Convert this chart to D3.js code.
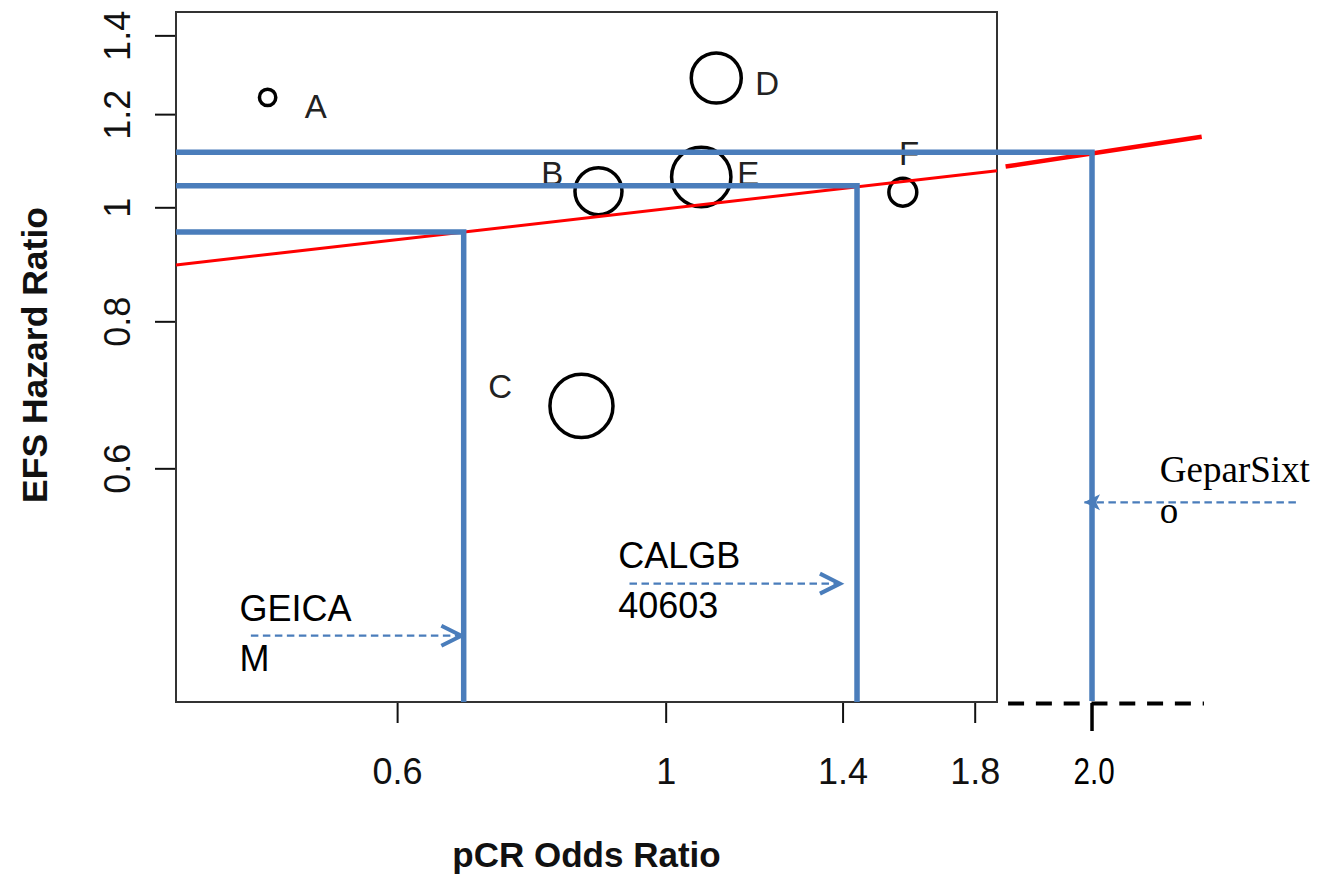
<!DOCTYPE html>
<html>
<head>
<meta charset="utf-8">
<script src="https://cdn.jsdelivr.net/npm/d3@7"></script>
<style>
  body { margin: 0; background: #fff; }
  text { font-family: "Liberation Sans", Arial, sans-serif; }
</style>
</head>
<body>
<div id="chart"></div>
<script>
// studies in the meta-regression (bubble plot)
var studies   = ["A", "B", "C", "D", "E", "F"];
var pcrOR     = [0.469, 0.880, 0.852, 1.101, 1.070, 1.570];
var efsHR     = [1.240, 1.032, 0.678, 1.288, 1.061, 1.030];
var studySize = [65, 540, 970, 610, 860, 190];
// where each letter was put with text()
var labelOR   = [0.514, 0.806, 0.730, 1.213, 1.170, 1.589];
var labelHR   = [1.218, 1.068, 0.704, 1.276, 1.068, 1.111];

var xTicks = [0.6, 1, 1.4, 1.8];
var yTicks = [0.6, 0.8, 1, 1.2, 1.4];

// regression line: log(HR) = a + b * log(OR)
var regIntercept = -0.003;
var regSlope = 0.118;
// hand-drawn extension of the red line outside the box
var redExtOR = [1.909, 2.772];
var redExtHR = [1.083, 1.148];

// trials
var trials     = ["GEICAM", "CALGB 40603", "GeparSixto"];
var trialOR    = [0.681, 1.439, 2.25];
var trialHR    = [0.953, 1.043, 1.114];
var trialLines = [["GEICA", "M"], ["CALGB", "40603"], ["GeparSixt", "o"]];
var noteOR     = [0.4445, 0.9137, 2.560];
var noteHR     = [0.4453, 0.494, 0.5845];
var arrowFromOR = [0.4543, 0.9335, 3.316];
var arrowToOR   = [0.678, 1.393, 2.216];
var arrowHR     = [0.4324, 0.4788, 0.5614];
var extTickLabel = "2.0";
var extAxisOR = [1.918, 2.784];

var W = 1319, H = 877;
var pLeft = 176, pRight = 997, pTop = 12, pBottom = 702;
var blue = "#4a7dbb";

var svg = d3.select("#chart").append("svg")
  .attr("width", W)
  .attr("height", H);

var x = d3.scaleLog().domain([0.394, 1.878]).range([pLeft, pRight]);
var y = d3.scaleLog().domain([0.3798, 1.4655]).range([pBottom, pTop]);
var r = d3.scaleSqrt().domain([0, 1000]).range([0, 32]);

// axes
var xAxis = svg.append("g")
  .attr("transform", "translate(0," + pBottom + ")")
  .call(d3.axisBottom(x).tickValues(xTicks).tickSize(21).tickFormat(d3.format("")));
xAxis.select(".domain").remove();
xAxis.selectAll("line").attr("stroke", "#111").attr("stroke-width", 2);
xAxis.selectAll("text")
  .attr("y", 82).attr("dy", 0)
  .attr("fill", "#111")
  .style("font-size", "36px")
  .style("font-family", "'Liberation Sans', Arial, sans-serif");

var yAxis = svg.append("g")
  .attr("transform", "translate(" + pLeft + ",0)")
  .call(d3.axisLeft(y).tickValues(yTicks).tickSize(21).tickFormat(d3.format("")));
yAxis.select(".domain").remove();
yAxis.selectAll("line").attr("stroke", "#111").attr("stroke-width", 2);
yAxis.selectAll("text")
  .attr("transform", "rotate(-90)")
  .attr("x", 0).attr("y", -46).attr("dy", 0)
  .attr("text-anchor", "middle")
  .attr("fill", "#111")
  .style("font-size", "36px")
  .style("font-family", "'Liberation Sans', Arial, sans-serif");

// box
svg.append("rect")
  .attr("x", pLeft).attr("y", pTop)
  .attr("width", pRight - pLeft).attr("height", pBottom - pTop)
  .attr("fill", "none")
  .attr("stroke", "#333")
  .attr("stroke-width", 2);

// axis titles
svg.append("text")
  .attr("x", (pLeft + pRight) / 2).attr("y", 867)
  .attr("text-anchor", "middle")
  .style("font-size", "35px").style("font-weight", "bold")
  .attr("fill", "#111")
  .text("pCR Odds Ratio");

svg.append("text")
  .attr("transform", "translate(47," + ((pTop + pBottom) / 2 - 2) + ") rotate(-90)")
  .attr("text-anchor", "middle")
  .style("font-size", "35.5px").style("font-weight", "bold")
  .attr("fill", "#111")
  .text("EFS Hazard Ratio");

// bubbles
var pts = studies.map(function (s, i) {
  return { name: s, or: pcrOR[i], hr: efsHR[i], n: studySize[i], lor: labelOR[i], lhr: labelHR[i] };
});

svg.selectAll("circle.study").data(pts)
  .enter().append("circle")
  .attr("class", "study")
  .attr("cx", function (d) { return x(d.or); })
  .attr("cy", function (d) { return y(d.hr); })
  .attr("r", function (d) { return r(d.n); })
  .attr("fill", "none")
  .attr("stroke", "#000")
  .attr("stroke-width", 3.5);

svg.selectAll("text.study").data(pts)
  .enter().append("text")
  .attr("class", "study")
  .attr("x", function (d) { return x(d.lor); })
  .attr("y", function (d) { return y(d.lhr); })
  .attr("dy", "0.358em")
  .attr("text-anchor", "middle")
  .attr("fill", "#222")
  .style("font-size", "33px")
  .text(function (d) { return d.name; });

// regression line
var dom = x.domain();
var reg = dom.map(function (o) { return [o, Math.exp(regIntercept + regSlope * Math.log(o))]; });
svg.append("path")
  .datum(reg)
  .attr("d", d3.line().x(function (d) { return x(d[0]); }).y(function (d) { return y(d[1]); }))
  .attr("fill", "none")
  .attr("stroke", "#ff0000")
  .attr("stroke-width", 3);

svg.append("path")
  .datum(redExtOR.map(function (o, i) { return [o, redExtHR[i]]; }))
  .attr("d", d3.line().x(function (d) { return x(d[0]); }).y(function (d) { return y(d[1]); }))
  .attr("fill", "none")
  .attr("stroke", "#ff0000")
  .attr("stroke-width", 4.5);

// extended x axis drawn by hand
svg.append("line")
  .attr("x1", x(extAxisOR[0])).attr("x2", x(extAxisOR[1]))
  .attr("y1", pBottom + 1.5).attr("y2", pBottom + 1.5)
  .attr("stroke", "#000")
  .attr("stroke-width", 4)
  .attr("stroke-dasharray", "16,11.8");

svg.append("line")
  .attr("x1", x(trialOR[2])).attr("x2", x(trialOR[2]))
  .attr("y1", pBottom + 1).attr("y2", pBottom + 29)
  .attr("stroke", "#000")
  .attr("stroke-width", 3.5);

svg.append("text")
  .attr("transform", "translate(" + (x(trialOR[2]) + 2) + ",784) scale(0.8,1)")
  .attr("text-anchor", "middle")
  .attr("fill", "#000")
  .style("font-size", "37px")
  .text(extTickLabel);

// blue read-off lines
var tr = trials.map(function (t, i) {
  return { name: t, or: trialOR[i], hr: trialHR[i], lines: trialLines[i],
           nor: noteOR[i], nhr: noteHR[i], aFrom: arrowFromOR[i], aTo: arrowToOR[i], ahr: arrowHR[i] };
});

svg.selectAll("path.trial").data(tr)
  .enter().append("path")
  .attr("class", "trial")
  .attr("d", function (d) {
    return "M" + pLeft + "," + y(d.hr) + "H" + x(d.or) + "V" + (d.or > dom[1] ? pBottom - 1 : pBottom);
  })
  .attr("fill", "none")
  .attr("stroke", blue)
  .attr("stroke-width", 5.5);

// dashed arrows
svg.selectAll("line.arrow").data(tr)
  .enter().append("line")
  .attr("class", "arrow")
  .attr("x1", function (d) { return x(d.aFrom); })
  .attr("x2", function (d) { return x(d.aTo); })
  .attr("y1", function (d) { return y(d.ahr); })
  .attr("y2", function (d) { return y(d.ahr); })
  .attr("stroke", blue)
  .attr("stroke-width", 2.2)
  .attr("stroke-dasharray", "7.5,4.5");

tr.forEach(function (d) {
  var tx = x(d.aTo), ty = y(d.ahr);
  if (d.aTo > d.aFrom) {
    svg.append("path")
      .attr("d", "M" + (tx - 20) + "," + (ty - 10) + "L" + tx + "," + ty + "L" + (tx - 20) + "," + (ty + 10))
      .attr("fill", "none")
      .attr("stroke", blue)
      .attr("stroke-width", 4);
  } else {
    svg.append("path")
      .attr("d", "M" + tx + "," + ty + "L" + (tx + 16) + "," + (ty - 8) + "L" + (tx + 12) + "," + ty +
                 "L" + (tx + 16) + "," + (ty + 8) + "Z")
      .attr("fill", blue);
  }
});

// trial names
tr.forEach(function (d, i) {
  var serif = i === 2;
  var t = svg.append("text")
    .attr("x", x(d.nor))
    .attr("y", y(d.nhr))
    .attr("fill", "#000")
    .style("font-size", serif ? "37px" : "36px")
    .style("font-family", serif ? "'Liberation Serif', 'Times New Roman', serif" : "'Liberation Sans', Arial, sans-serif");
  t.selectAll("tspan").data(d.lines)
    .enter().append("tspan")
    .attr("x", x(d.nor))
    .attr("dy", function (l, j) { return j === 0 ? 0 : (serif ? 41 : 50); })
    .text(function (l) { return l; });
});
</script>
</body>
</html>
